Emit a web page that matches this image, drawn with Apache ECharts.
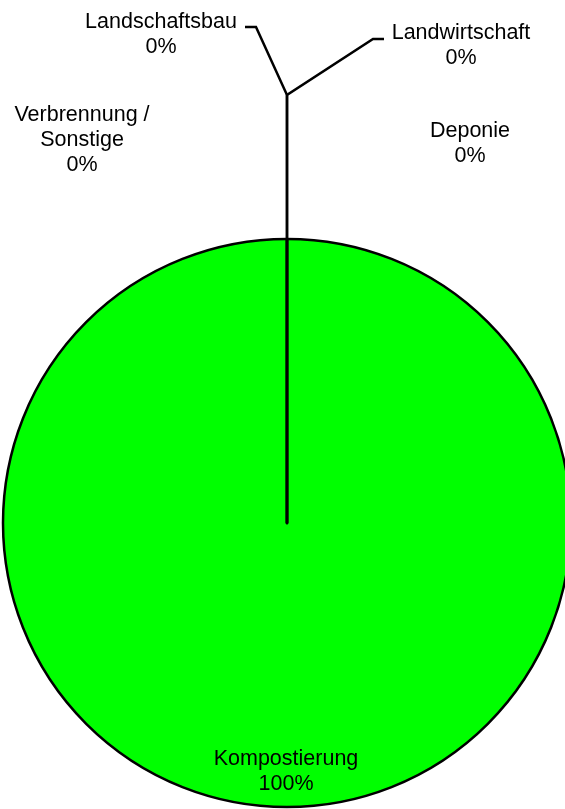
<!DOCTYPE html>
<html><head><meta charset="utf-8">
<script src="https://cdn.jsdelivr.net/npm/echarts@6/dist/echarts.min.js"></script>
<style>html,body{margin:0;padding:0;background:#fff;overflow:hidden}#c{width:565px;height:809px}</style>
</head><body><div id="c"></div>
<script>
// ---- data ----
const categories = ['Kompostierung', 'Landwirtschaft', 'Deponie', 'Verbrennung / Sonstige', 'Landschaftsbau'];
const shares = [100, 0, 0, 0, 0];

// ---- layout / style ----
const CX = 287, CY = 523, R = 284;
const sliceColors = ['#00FF00', '#9999FF', '#993366', '#FFFFCC', '#CCFFFF'];
const labelSpots = {
  'Kompostierung': [286, 772],
  'Landwirtschaft': [461, 46],
  'Deponie': [470, 144],
  'Verbrennung / Sonstige': [82, 140],
  'Landschaftsbau': [161, 35]
};
const leaders = {
  'Landschaftsbau': [[CX, CY - R], [CX, 95], [256, 27], [245, 27]],
  'Landwirtschaft': [[CX, CY - R], [CX, 95], [373, 39], [384, 39]]
};

const chart = echarts.init(document.getElementById('c'), null, {renderer: 'canvas'});
const data = categories.map((name, i) => ({
  name: name,
  value: shares[i],
  itemStyle: {color: sliceColors[i]},
  label: {position: i === 0 ? 'inside' : 'outside'},
  labelLine: {show: !!leaders[name]}
}));

chart.setOption({
  animation: false,
  backgroundColor: '#fff',
  series: [{
    type: 'pie',
    center: [CX, CY],
    radius: R,
    startAngle: 90,
    clockwise: true,
    minAngle: 0,
    minShowLabelAngle: 0,
    avoidLabelOverlap: false,
    data: data,
    itemStyle: {borderColor: '#000', borderWidth: 2.5},
    emphasis: {disabled: true},
    label: {
      show: true,
      color: '#000',
      fontFamily: 'Liberation Sans, Arial, sans-serif',
      fontSize: 21.5,
      lineHeight: 25,
      align: 'center',
      formatter: p => p.name.replace(' / ', ' /\n') + '\n' + Math.round(p.percent) + '%'
    },
    labelLine: {
      show: true,
      smooth: false,
      lineStyle: {color: '#000', width: 2.5}
    },
    labelLayout: function (params) {
      const name = categories[params.dataIndex];
      const spot = labelSpots[name];
      const out = {x: spot[0], y: spot[1], align: 'center', verticalAlign: 'middle', hideOverlap: false};
      if (leaders[name]) out.labelLinePoints = leaders[name];
      return out;
    }
  }]
});
</script>
</body></html>
